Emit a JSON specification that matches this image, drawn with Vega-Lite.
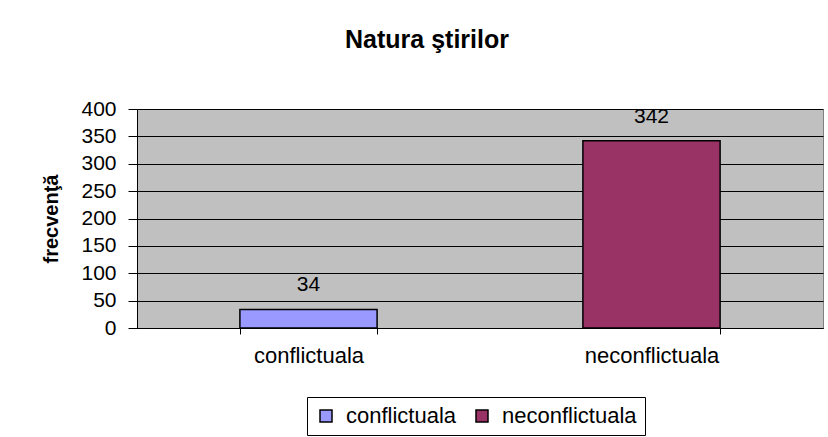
{
  "$schema": "https://vega.github.io/schema/vega-lite/v6.json",
  "autosize": {"type": "none"},
  "width": 686,
  "height": 219,
  "padding": {"left": 137, "top": 109, "right": 5, "bottom": 109},
  "background": "white",
  "title": {
    "text": "Natura ştirilor",
    "font": "Liberation Sans",
    "fontSize": 25,
    "fontWeight": "bold",
    "color": "black",
    "anchor": "middle",
    "dx": -53,
    "offset": 45
  },
  "data": {
    "values": [
      {"natura": "conflictuala", "frecventa": 34},
      {"natura": "neconflictuala", "frecventa": 342}
    ]
  },
  "config": {
    "view": {"fill": "#C0C0C0", "stroke": "#808080", "strokeWidth": 1},
    "font": "Liberation Sans"
  },
  "encoding": {
    "x": {
      "field": "natura",
      "type": "nominal",
      "scale": {"paddingInner": 0.6, "paddingOuter": 0.3},
      "axis": {
        "title": null,
        "labelAngle": 0,
        "labelFontSize": 22,
        "labelColor": "black",
        "labelPadding": 11,
        "tickBand": "extent",
        "tickColor": "black",
        "tickSize": 6,
        "domainColor": "black",
        "grid": false
      }
    },
    "y": {
      "field": "frecventa",
      "type": "quantitative",
      "scale": {"domain": [0, 400]},
      "axis": {
        "title": "frecvenţă",
        "titleFontSize": 20,
        "titleFontWeight": "bold",
        "titleColor": "black",
        "titleX": -76,
        "values": [0, 50, 100, 150, 200, 250, 300, 350, 400],
        "labelFontSize": 21,
        "labelColor": "black",
        "labelPadding": 12,
        "tickColor": "black",
        "tickSize": 9,
        "domainColor": "black",
        "gridColor": "black",
        "gridOpacity": 1,
        "gridWidth": 1
      }
    }
  },
  "layer": [
    {
      "mark": {"type": "bar", "stroke": "black", "strokeWidth": 1.5},
      "encoding": {
        "color": {
          "field": "natura",
          "type": "nominal",
          "scale": {"domain": ["conflictuala", "neconflictuala"], "range": ["#9999FF", "#993366"]},
          "legend": {
            "title": null,
            "orient": "none",
            "direction": "horizontal",
            "legendX": 170,
            "legendY": 288,
            "symbolType": "square",
            "symbolSize": 144,
            "symbolStrokeColor": "black",
            "symbolStrokeWidth": 1.5,
            "labelFontSize": 22,
            "labelColor": "black",
            "labelOffset": 9,
            "strokeColor": "black",
            "padding": 8,
            "columnPadding": 14
          }
        }
      }
    },
    {
      "mark": {"type": "text", "dy": -14, "fontSize": 21, "color": "black", "baseline": "bottom"},
      "encoding": {"text": {"field": "frecventa", "type": "quantitative"}}
    }
  ]
}
